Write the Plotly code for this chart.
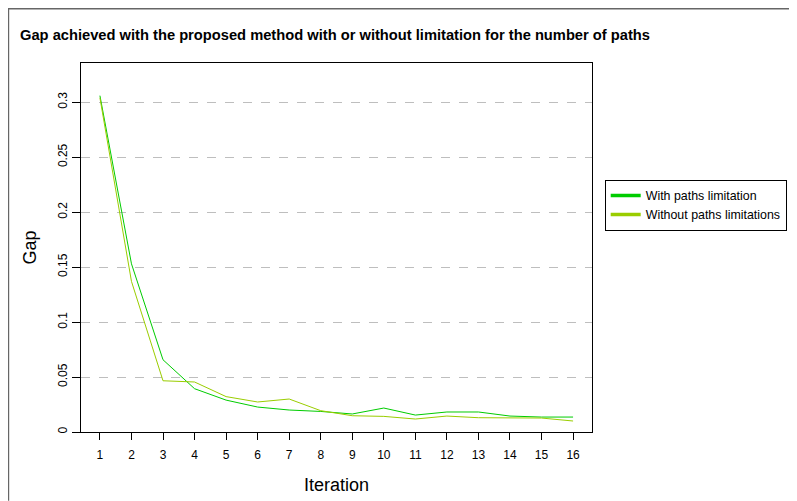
import plotly.graph_objects as go

iterations = list(range(1, 17))
with_limit = [0.306, 0.153, 0.0657, 0.0394, 0.029, 0.0227, 0.020, 0.0187,
              0.0164, 0.0218, 0.0154, 0.0182, 0.0182, 0.0145, 0.0136, 0.0136]
without_limit = [0.304, 0.137, 0.0466, 0.0455, 0.0322, 0.0273, 0.030, 0.0194,
                 0.0148, 0.0142, 0.0118, 0.0145, 0.013, 0.0127, 0.0127, 0.010]
series_names = ["With paths limitation", "Without paths limitations"]
colors = ["#00CC00", "#9ACD00"]
y_ticks = [0, 0.05, 0.1, 0.15, 0.2, 0.25, 0.3]
y_tick_text = ["0", "0.05", "0.1", "0.15", "0.2", "0.25", "0.3"]

# page has an 8px body margin; work in figure coordinates
W, H = 789, 493
L, R, T, B = 73.3, 584.3, 55.0, 424.3
PW, PH = R - L, B - T

font = "Liberation Sans, Arial, sans-serif"
fig = go.Figure()
for name, vals, col in zip(series_names, [with_limit, without_limit], colors):
    fig.add_trace(go.Scatter(x=iterations, y=vals, mode="lines", name=name,
                             line=dict(color=col, width=1), showlegend=False))
for name, col in zip(series_names, colors):
    fig.add_trace(go.Scatter(x=[None], y=[None], mode="lines", name=name,
                             line=dict(color=col, width=3.5), showlegend=True))

fig.update_layout(
    width=W, height=H,
    margin=dict(l=L, r=W - R, t=T, b=H - B, autoexpand=False),
    paper_bgcolor="white", plot_bgcolor="white",
    font=dict(family=font, color="black", size=12),
    title=dict(text="<b>Gap achieved with the proposed method with or without limitation for the number of paths</b>",
               x=12 / W, xanchor="left", y=1 - 27 / H, yanchor="middle",
               font=dict(size=14.7, family=font)),
    legend=dict(x=(597 - L) / PW, xanchor="left", y=(B - 172) / PH, yanchor="top",
                bordercolor="black", borderwidth=1, bgcolor="white",
                font=dict(size=12.4, family=font), tracegroupgap=0,
                itemwidth=30),
    xaxis=dict(range=[0.4, 16.6], tickmode="array", tickvals=iterations,
               ticktext=[str(i) for i in iterations], showgrid=False,
               zeroline=False, showline=True, linecolor="black", linewidth=1,
               mirror=True, ticks="outside", ticklen=7, tickcolor="black",
               ticklabelstandoff=5,
               title=dict(text="Iteration", font=dict(size=18, family=font), standoff=16),
               tickfont=dict(size=12)),
    yaxis=dict(range=[0, 0.3357], tickmode="array", tickvals=y_ticks,
               ticktext=y_tick_text, tickangle=-90, showgrid=True,
               gridcolor="#BEBEBE", griddash="dash", gridwidth=1,
               zeroline=False, showline=True, linecolor="black", linewidth=1,
               mirror=True, ticks="outside", ticklen=8, tickcolor="black",
               title=dict(text="Gap", font=dict(size=18, family=font), standoff=14),
               tickfont=dict(size=12)),
    shapes=[
        dict(type="line", xref="paper", yref="paper", x0=(0 - L) / PW, x1=(W - L) / PW,
             y0=(B - 0.75) / PH, y1=(B - 0.75) / PH, line=dict(color="#666666", width=1.5)),
        dict(type="line", xref="paper", yref="paper", x0=(0.75 - L) / PW, x1=(0.75 - L) / PW,
             y0=(B - 0) / PH, y1=(B - H) / PH, line=dict(color="#666666", width=1.5)),
    ],
)
fig.write_html("out.html")
